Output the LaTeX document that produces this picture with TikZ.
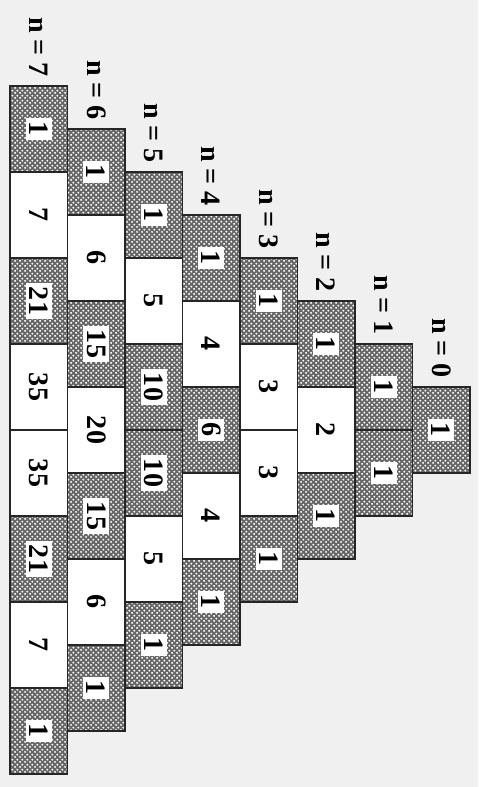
\documentclass[tikz,border=0pt]{standalone}
\usepackage{fontspec}
\setmainfont{Liberation Serif}
\usetikzlibrary{patterns.meta}

\tikzdeclarepattern{
  name=meshdots,
  type=uncolored,
  bounding box={(0,0) and (4pt,4pt)},
  tile size={(4pt,4pt)},
  code={
    \fill (1pt,1pt) circle (0.95pt);
    \fill (3pt,3pt) circle (0.95pt);
  }
}

\begin{document}
\begin{tikzpicture}[
  x=0.3mm, y=-0.3mm,
  cell/.style={rectangle, draw=black!85, line width=0.9pt, rotate=-90, inner sep=0pt,
               minimum width=25.8mm, minimum height=17.25mm,
               font=\fontsize{24}{28}\selectfont\bfseries},
  shadedcell/.style={cell, preaction={fill=black!60}, pattern=meshdots, pattern color=white},
  plaincell/.style={cell, fill=white},
  lbl/.style={rotate=-90, inner sep=0pt, font=\fontsize{24}{28}\selectfont\bfseries}
]
  %% ── Page ───────────────────────────────────────────────────────────────────
  \useasboundingbox[fill=black!6] (0,0) rectangle (478,787);

  %% ── Rows of the triangle, one column per n (s = shaded, w = white) ───────
  \foreach \n/\vals in {7/{1/s,7/w,21/s,35/w,35/w,21/s,7/w,1/s},
                        6/{1/s,6/w,15/s,20/w,15/s,6/w,1/s},
                        5/{1/s,5/w,10/s,10/s,5/w,1/s},
                        4/{1/s,4/w,6/s,4/w,1/s},
                        3/{1/s,3/w,3/w,1/s},
                        2/{1/s,2/w,1/s},
                        1/{1/s,1/s},
                        0/{1/s}}{
    \foreach \v/\t [count=\k from 0] in \vals {
      \if s\t
        \node[shadedcell] (c\n-\k) at ({38.75+(7-\n)*57.5}, {129+(7-\n)*43+86*\k})
          {\setlength\fboxsep{3pt}\colorbox{white}{\v}};
      \else
        \node[plaincell] (c\n-\k) at ({38.75+(7-\n)*57.5}, {129+(7-\n)*43+86*\k}) {\v};
      \fi
    }
    % column label
    \node[lbl, anchor=east] (n\n) at ([yshift=7pt]c\n-0.west) {n = \n};
  }
\end{tikzpicture}
\end{document}
